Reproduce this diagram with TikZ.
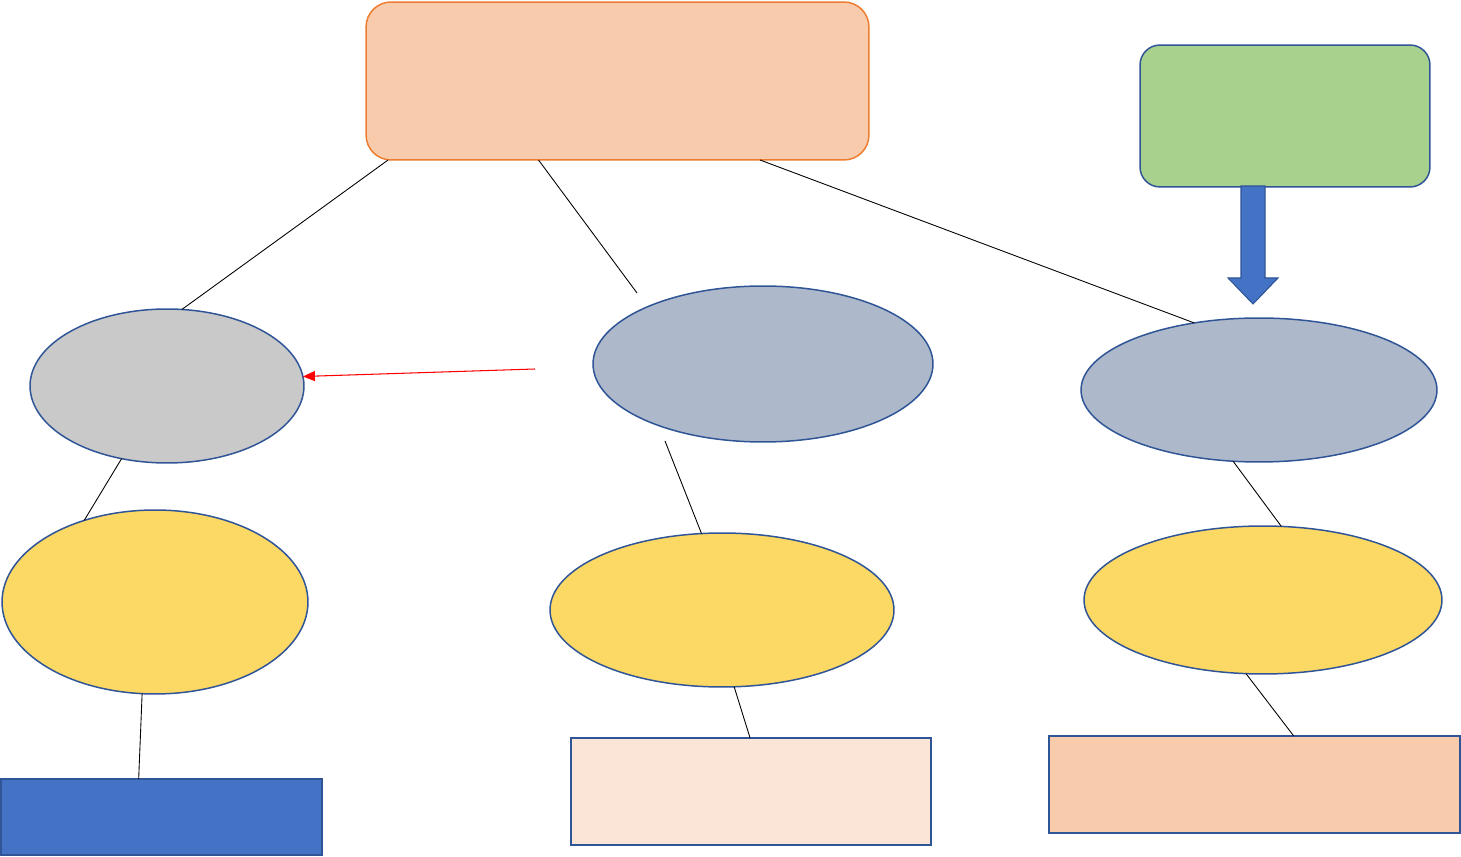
\documentclass[tikz,border=0pt]{standalone}
\usepackage{xcolor}
\usepackage{tikz}
\usetikzlibrary{shapes.geometric,arrows.meta}
\definecolor{peach}{HTML}{F8CBAD}
\definecolor{paleorange}{HTML}{FBE5D6}
\definecolor{topedge}{HTML}{ED7D31}
\definecolor{leaf}{HTML}{A9D18E}
\definecolor{edgeblue}{HTML}{2F5597}
\definecolor{arrowblue}{HTML}{4472C4}
\definecolor{stone}{HTML}{C9C9C9}
\definecolor{slate}{HTML}{ADB9CA}
\definecolor{sun}{HTML}{FCD864}

\begin{document}
\begin{tikzpicture}[x=0.02cm,y=-0.02cm,
  rbox/.style={draw=edgeblue,line width=0.85pt,rounded corners=0.5cm,inner sep=0pt,outer sep=0pt},
  oval/.style={ellipse,draw=edgeblue,line width=0.85pt,inner sep=0pt,outer sep=0pt},
  plainbox/.style={draw=edgeblue,line width=1.1pt,inner sep=0pt,outer sep=0pt},
  link/.style={black,line width=0.5pt}]
  \useasboundingbox (0,0) rectangle (1461,857);

  \node[rbox,draw=topedge,fill=peach,minimum width=10.06cm,minimum height=3.16cm] (top) at (617.5,81) {};
  \node[rbox,fill=leaf,rounded corners=0.4cm,minimum width=5.8cm,minimum height=2.84cm] (green) at (1285,116) {};
  \draw[draw=edgeblue,fill=arrowblue,line width=0.6pt] (1241,186) -- (1265,186) -- (1265,278) -- (1278,278)
    -- (1253,304) -- (1228,278) -- (1241,278) -- cycle;

  \node[oval,fill=stone,minimum width=5.48cm,minimum height=3.08cm] (gray) at (167,386) {};
  \node[oval,fill=slate,minimum width=6.8cm,minimum height=3.12cm] (mid) at (763,364) {};
  \node[oval,fill=slate,minimum width=7.12cm,minimum height=2.88cm] (right) at (1259,390) {};
  \node[oval,fill=sun,minimum width=6.12cm,minimum height=3.68cm] (yleft) at (155,602) {};
  \node[oval,fill=sun,minimum width=6.88cm,minimum height=3.08cm] (ymid) at (722,610) {};
  \node[oval,fill=sun,minimum width=7.16cm,minimum height=2.96cm] (yright) at (1263,600) {};

  \node[plainbox,fill=arrowblue,minimum width=6.42cm,minimum height=1.52cm] (bleft) at (161.5,817) {};
  \node[plainbox,fill=paleorange,minimum width=7.2cm,minimum height=2.14cm] (bmid) at (751,791.5) {};
  \node[plainbox,fill=peach,minimum width=8.22cm,minimum height=1.94cm] (bright) at (1254.5,784.5) {};

  \coordinate (midtop) at (637,293);
  \coordinate (midlow) at (665,441);
  \coordinate (redtail) at (535,369);

  \draw[link] (top.199) -- (gray.79);
  \draw[link] (top.225) -- (midtop);
  \draw[link] (top.331) -- (right.134);
  \draw[link] (gray.238) -- (yleft.131);
  \draw[link] (yleft.262) -- (bleft.121);
  \draw[link] (midlow) -- (ymid.105);
  \draw[link] (ymid.279) -- (bmid.91);
  \draw[link] (right.250) -- (yright.76);
  \draw[link] (yright.257) -- (bright.51);
  \draw[red,line width=0.6pt,-{Triangle[length=2.4mm,width=2mm]}] (redtail) -- (gray.4);
\end{tikzpicture}
\end{document}
